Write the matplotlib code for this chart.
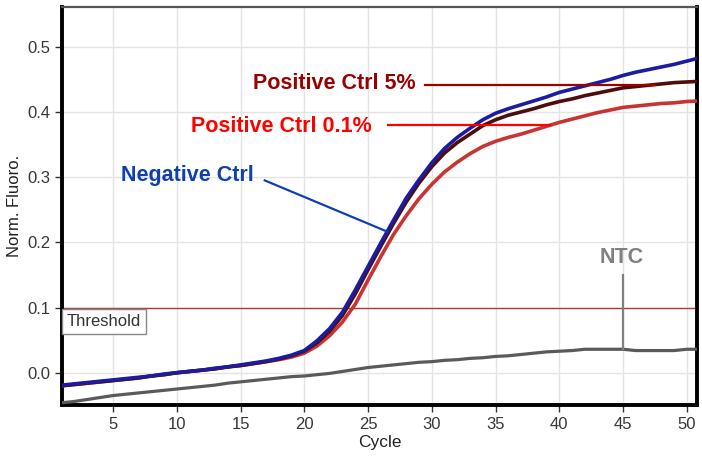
import numpy as np
import matplotlib
matplotlib.use("Agg")
import matplotlib.pyplot as plt

plt.rcParams['font.family'] = ['Liberation Sans', 'DejaVu Sans']

cycles = np.arange(1, 52)

negative_ctrl = [-0.019, -0.017, -0.015, -0.013, -0.011, -0.009, -0.007, -0.005, -0.002, 0.000,
                 0.002, 0.004, 0.007, 0.009, 0.012, 0.015, 0.018, 0.022, 0.027, 0.034,
                 0.049, 0.068, 0.093, 0.127, 0.163, 0.199, 0.234, 0.268, 0.296, 0.322,
                 0.344, 0.361, 0.375, 0.388, 0.398, 0.405, 0.411, 0.417, 0.423, 0.430,
                 0.435, 0.440, 0.445, 0.450, 0.456, 0.461, 0.465, 0.469, 0.473, 0.478, 0.483]

positive_5 = [-0.020, -0.018, -0.016, -0.014, -0.012, -0.010, -0.008, -0.005, -0.003, 0.000,
              0.002, 0.004, 0.006, 0.009, 0.011, 0.014, 0.017, 0.021, 0.026, 0.033,
              0.046, 0.064, 0.088, 0.121, 0.158, 0.194, 0.229, 0.262, 0.291, 0.316,
              0.337, 0.353, 0.366, 0.379, 0.388, 0.395, 0.400, 0.405, 0.411, 0.416,
              0.420, 0.425, 0.429, 0.433, 0.437, 0.439, 0.441, 0.443, 0.445, 0.446, 0.447]

positive_01 = [-0.020, -0.018, -0.016, -0.014, -0.012, -0.010, -0.008, -0.005, -0.003, 0.000,
               0.002, 0.004, 0.006, 0.009, 0.011, 0.014, 0.017, 0.020, 0.024, 0.030,
               0.041, 0.057, 0.078, 0.105, 0.142, 0.178, 0.212, 0.241, 0.267, 0.289,
               0.308, 0.323, 0.336, 0.347, 0.355, 0.361, 0.366, 0.372, 0.378, 0.384,
               0.389, 0.394, 0.399, 0.403, 0.407, 0.409, 0.411, 0.413, 0.414, 0.416, 0.417]

ntc = [-0.046, -0.044, -0.041, -0.038, -0.035, -0.033, -0.031, -0.029, -0.027, -0.025,
       -0.023, -0.021, -0.019, -0.016, -0.014, -0.012, -0.010, -0.008, -0.006, -0.005,
       -0.003, -0.001, 0.002, 0.005, 0.008, 0.010, 0.012, 0.014, 0.016, 0.017,
       0.019, 0.020, 0.022, 0.023, 0.025, 0.026, 0.028, 0.030, 0.032, 0.033,
       0.034, 0.036, 0.036, 0.036, 0.036, 0.034, 0.034, 0.034, 0.034, 0.036, 0.036]

threshold = 0.1
x_ticks = [5, 10, 15, 20, 25, 30, 35, 40, 45, 50]
y_ticks = [0.0, 0.1, 0.2, 0.3, 0.4, 0.5]

fig = plt.figure(figsize=(7.02, 4.63), dpi=100)
ax = fig.add_axes([62/702, 1-405/463, (697-62)/702, (405-7)/463])

ax.set_xlim(1, 50.8)
ax.set_ylim(-0.0495, 0.561)

ax.set_xticks(x_ticks)
ax.set_yticks(y_ticks)
ax.set_yticklabels([f"{v:.1f}" for v in y_ticks])
ax.grid(True, color='#e4e4e4', linewidth=1.0, zorder=0)
ax.set_axisbelow(True)

ax.tick_params(axis='both', direction='out', length=5, width=1, color='#333333',
               labelsize=12, labelcolor='#383838')
ax.set_xlabel('Cycle', fontsize=12.5, color='#222222', labelpad=2)
ax.set_ylabel('Norm. Fluoro.', fontsize=12, color='#222222', labelpad=4)

for side in ['left', 'bottom', 'right']:
    ax.spines[side].set_linewidth(2.8)
    ax.spines[side].set_color('black')
ax.spines['top'].set_linewidth(1.6)
ax.spines['top'].set_color('#555555')

ax.axhline(threshold, color='#b03a3a', linewidth=1.0, zorder=2)
ax.text(1.4, 0.078, 'Threshold', fontsize=12, color='#333333', va='center', ha='left',
        bbox=dict(boxstyle='square,pad=0.3', fc='white', ec='#888888', lw=1.0), zorder=5)

ax.plot(cycles, ntc, color='#5a5a5a', linewidth=2.3, zorder=3)
ax.plot(cycles, positive_01, color='#c83434', linewidth=2.6, zorder=3)
ax.plot(cycles, positive_5, color='#4e0c0c', linewidth=2.6, zorder=4)
ax.plot(cycles, negative_ctrl, color='#1c1ca0', linewidth=2.6, zorder=5)

# annotations
y5 = np.interp(47.5, cycles, positive_5)
ax.plot([29.5, 47.5], [y5, y5], color='#a00000', linewidth=1.6, zorder=6)
ax.text(28.7, 0.444, 'Positive Ctrl 5%', color='#990000', fontsize=15.5, fontweight='bold',
        ha='right', va='center')

y01 = np.interp(39.3, cycles, positive_01)
ax.plot([26.6, 39.3], [y01, y01], color='#ff0000', linewidth=1.6, zorder=6)
ax.text(25.3, 0.377, 'Positive Ctrl 0.1%', color='#ff0000', fontsize=15.5, fontweight='bold',
        ha='right', va='center')

yneg = np.interp(26.5, cycles, negative_ctrl)
ax.plot([16.9, 26.5], [0.295, yneg], color='#1040b0', linewidth=1.6, zorder=6)
ax.text(16.0, 0.303, 'Negative Ctrl', color='#1040b0', fontsize=15.5, fontweight='bold',
        ha='right', va='center')

yntc = np.interp(45, cycles, ntc)
ax.plot([45, 45], [0.150, yntc], color='#808080', linewidth=1.6, zorder=6)
ax.text(44.9, 0.176, 'NTC', color='#808080', fontsize=15.5, fontweight='bold',
        ha='center', va='center')

fig.savefig('out.png', dpi=100)
